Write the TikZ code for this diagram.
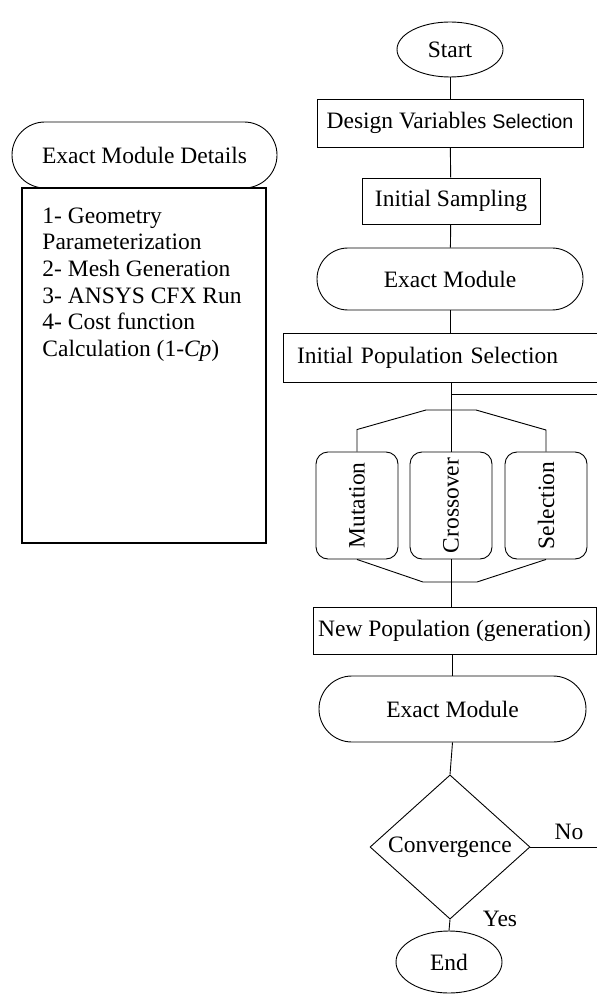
\documentclass[tikz,border=0pt]{standalone}
\usepackage{fontspec}
\usepackage{graphicx}
\setmainfont{Liberation Serif}
\newfontfamily\arialfont{Liberation Sans}
\usetikzlibrary{shapes.geometric,shapes.misc}
\begin{document}
\begin{tikzpicture}[x=0.5pt,y=-0.5pt,line width=0.45pt,
  every node/.style={font=\fontsize{11.75}{13.35}\selectfont},
  procbox/.style={draw,rectangle,inner sep=0pt},
  termnode/.style={draw,ellipse,inner sep=0pt,minimum width=53pt},
  modnode/.style={draw,rounded rectangle,inner sep=0pt},
  opbox/.style={draw,rounded corners=6pt,inner sep=0pt,minimum width=41pt,minimum height=53.5pt}]
\useasboundingbox (0,0) rectangle (597,994);
% main flow
\node (start) [termnode,minimum height=27.5pt] at (450,49.5) {Start};
\node (design) [procbox,minimum width=133pt,minimum height=24pt] at (450,123)
  {Design Variables {\arialfont\fontsize{9.85}{11}\selectfont Selection}};
\node (sampling) [procbox,minimum width=89pt,minimum height=23pt] at (451,201) {Initial Sampling};
\node (exact1) [modnode,minimum width=133pt,minimum height=31pt] at (450,279) {Exact Module};
\node (initpop) [procbox,minimum height=24.5pt,text width=143pt,inner xsep=7pt,align=left] at (440,357.5)
  {Initial Population Selection};
% operators
\node (mut) [opbox] at (357,505.5) {\rotatebox{90}{Mutation}};
\node (cross) [opbox] at (451,505.5) {\rotatebox{90}{Crossover}};
\node (sel) [opbox] at (546,505.5) {\rotatebox{90}{Selection}};
\node (newpop) [procbox,minimum width=141.5pt,minimum height=23.5pt] at (454.5,630.5) {New Population (generation)};
\node (exact2) [modnode,minimum width=133.5pt,minimum height=33pt] at (452.5,709) {Exact Module};
\node (conv) [draw,diamond,inner sep=0pt,minimum width=80pt,minimum height=69pt] at (450,847) {Convergence};
\node (stop) [termnode,minimum height=31pt] at (449,962) {End};
\coordinate (loopIn) at (597,394);
\coordinate (noEnd) at (597,847);
\node (no) at (569,832) {No};
% exact module details
\node (details) [modnode,minimum width=132.5pt,minimum height=33pt] at (144.5,155) {Exact Module Details};
\node (detailbox) [procbox,line width=0.8pt,minimum width=122pt,minimum height=177.5pt] at (144,365.5) {};
\node (steps) [anchor=north west,align=left,inner sep=0pt] at (42,207)
  {1- Geometry\\Parameterization\\2- Mesh Generation\\3- ANSYS CFX Run\\4- Cost function\\Calculation (1-\textit{Cp})};
% connectors
\draw (start) -- (design);
\draw (design) -- (sampling);
\draw (sampling) -- (exact1);
\draw (exact1.south) -- (exact1.south |- initpop.north);
\draw (cross.north |- initpop.south) -- (cross.north);
\draw (cross.north |- loopIn) -- (loopIn);
\draw (mut.north) -- ++(0,-22) -- (426,410) -- (476,410) -- (546,430) -- (sel.north);
\draw (mut.south) -- (423,582) -- (477,582) -- (sel.south);
\draw (cross.south) -- (cross.south |- newpop.north);
\draw (exact2.north |- newpop.south) -- (exact2.north);
\draw (exact2.south) -- (conv.north);
\draw (conv.east) -- (noEnd);
\draw (conv.south) -- (stop.north);
\node (yes) [fill=white,inner sep=1pt] at (500,919) {Yes};
\end{tikzpicture}
\end{document}
